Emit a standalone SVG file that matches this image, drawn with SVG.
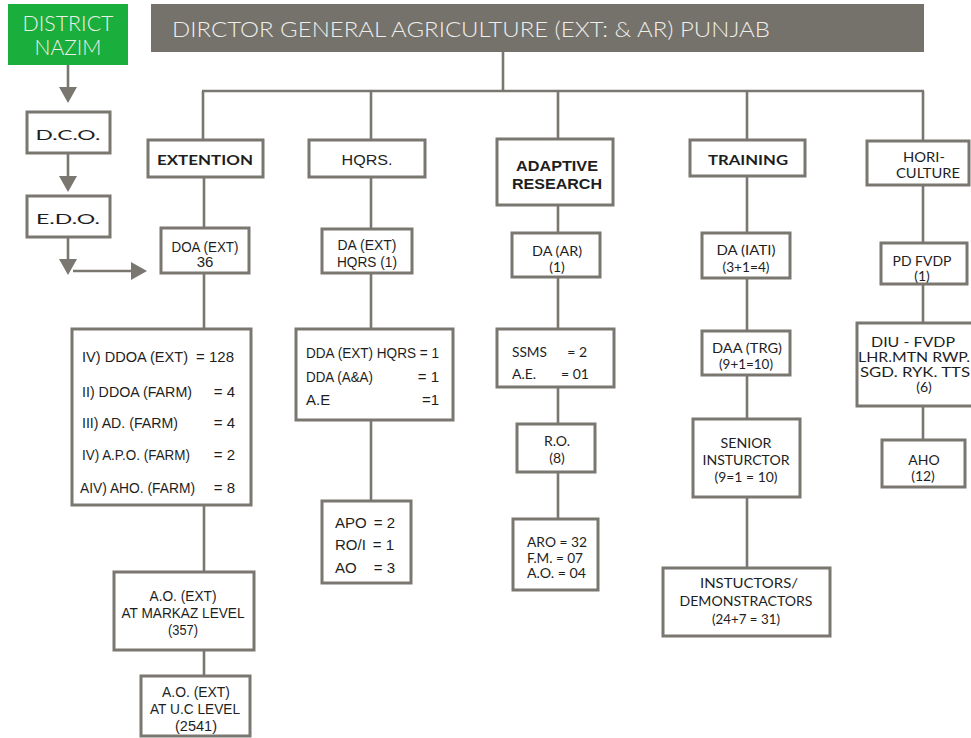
<svg xmlns="http://www.w3.org/2000/svg" width="971" height="738" viewBox="0 0 971 738">
<style>
.box{fill:#fff;stroke:#7a7771;stroke-width:3}
.ln{fill:none;stroke:#7a7771;stroke-width:2.6}
.n{font-family:"Liberation Sans Narrow","Liberation Sans",Arial,sans-serif;font-size:15px;fill:#1e1e1e}
.h{font-family:Lato,"Open Sans",sans-serif;font-size:14px;fill:#1e1e1e}
.c{text-anchor:middle}
.b{font-weight:bold}
.lt{font-family:Lato,"Open Sans",sans-serif;font-weight:300;fill:#eeeeea}
</style>
<defs>
<marker id="ah" markerUnits="userSpaceOnUse" markerWidth="18" markerHeight="20" refX="12" refY="9" orient="auto">
<path d="M0,0 L16,9 L0,18 z" fill="#7a7771"/>
</marker>
</defs>
<rect width="971" height="738" fill="#fff"/>

<g id="connectors">
<line class="ln" x1="503" y1="51" x2="503" y2="91"/>
<line class="ln" x1="202" y1="91" x2="924" y2="91"/>
<line class="ln" x1="203" y1="91" x2="203" y2="140"/>
<line class="ln" x1="371" y1="91" x2="371" y2="140"/>
<line class="ln" x1="558" y1="91" x2="558" y2="139"/>
<line class="ln" x1="747" y1="91" x2="747" y2="140"/>
<line class="ln" x1="923" y1="91" x2="923" y2="141"/>
<line class="ln" x1="204" y1="177" x2="204" y2="228"/>
<line class="ln" x1="204" y1="273" x2="204" y2="329"/>
<line class="ln" x1="204" y1="505" x2="204" y2="572"/>
<line class="ln" x1="204" y1="650" x2="204" y2="676"/>
<line class="ln" x1="371" y1="177" x2="371" y2="229"/>
<line class="ln" x1="371" y1="273" x2="371" y2="329"/>
<line class="ln" x1="371" y1="420" x2="371" y2="501"/>
<line class="ln" x1="558" y1="205" x2="558" y2="233"/>
<line class="ln" x1="558" y1="277" x2="558" y2="329"/>
<line class="ln" x1="558" y1="387" x2="558" y2="424"/>
<line class="ln" x1="558" y1="472" x2="558" y2="519"/>
<line class="ln" x1="747" y1="176" x2="747" y2="233"/>
<line class="ln" x1="747" y1="278" x2="747" y2="331"/>
<line class="ln" x1="747" y1="375" x2="747" y2="419"/>
<line class="ln" x1="747" y1="497" x2="747" y2="568"/>
<line class="ln" x1="923" y1="185" x2="923" y2="243"/>
<line class="ln" x1="923" y1="284" x2="923" y2="323"/>
<line class="ln" x1="923" y1="406" x2="923" y2="440"/>
<line class="ln" x1="68" y1="65" x2="68" y2="99" marker-end="url(#ah)"/>
<line class="ln" x1="68" y1="153" x2="68" y2="188" marker-end="url(#ah)"/>
<line class="ln" x1="68" y1="237" x2="68" y2="271" marker-end="url(#ah)"/>
<line class="ln" x1="73" y1="271" x2="143" y2="271" marker-end="url(#ah)"/>
</g>

<g id="title">
<rect x="151" y="4" width="773" height="48" fill="#75726c"/>
<text class="lt" x="172" y="37" font-size="22" textLength="598" lengthAdjust="spacingAndGlyphs">DIRCTOR GENERAL AGRICULTURE (EXT: &amp; AR) PUNJAB</text>
</g>

<g id="nazim">
<rect x="8" y="4" width="120" height="61" fill="#1aae3c"/>
<text class="lt" x="68" y="31" font-size="21" text-anchor="middle" textLength="91" lengthAdjust="spacingAndGlyphs">DISTRICT</text>
<text class="lt" x="68" y="55" font-size="21" text-anchor="middle" textLength="67" lengthAdjust="spacingAndGlyphs">NAZIM</text>
</g>

<g id="dco">
<rect class="box" x="27" y="112" width="83" height="41"/>
<text class="h c" x="68" y="140" font-size="20" textLength="65" lengthAdjust="spacingAndGlyphs">D.C.O.</text>
</g>
<g id="edo">
<rect class="box" x="27" y="196" width="83" height="41"/>
<text class="h c" x="68" y="224" font-size="20" textLength="64" lengthAdjust="spacingAndGlyphs">E.D.O.</text>
</g>

<g id="extention">
<rect class="box" x="148" y="140" width="115" height="37"/>
<text class="h c b" x="205" y="165" font-size="17" textLength="96" lengthAdjust="spacingAndGlyphs">EXTENTION</text>
</g>
<g id="hqrs">
<rect class="box" x="309" y="140" width="116" height="37"/>
<text class="n c" x="367" y="165" font-size="17" textLength="51" lengthAdjust="spacingAndGlyphs">HQRS.</text>
</g>
<g id="adaptive">
<rect class="box" x="497" y="139" width="116" height="66"/>
<text class="n c b" x="557" y="171" font-size="16" textLength="82" lengthAdjust="spacingAndGlyphs">ADAPTIVE</text>
<text class="n c b" x="557" y="189" font-size="16" textLength="90" lengthAdjust="spacingAndGlyphs">RESEARCH</text>
</g>
<g id="training">
<rect class="box" x="690" y="140" width="115" height="36"/>
<text class="h c b" x="748" y="165" font-size="17" textLength="80" lengthAdjust="spacingAndGlyphs">TRAINING</text>
</g>
<g id="horiculture">
<rect class="box" x="867" y="141" width="102" height="44"/>
<text class="h c" x="924" y="162" textLength="42" lengthAdjust="spacingAndGlyphs">HORI-</text>
<text class="h c" x="928" y="178" textLength="64" lengthAdjust="spacingAndGlyphs">CULTURE</text>
</g>

<g id="doa">
<rect class="box" x="161" y="228" width="88" height="45"/>
<text class="n c" x="205" y="252" textLength="67" lengthAdjust="spacingAndGlyphs">DOA (EXT)</text>
<text class="n c" x="205" y="267">36</text>
</g>
<g id="ddoa">
<rect class="box" x="72" y="329" width="179" height="176"/>
<text class="n" x="82" y="362" font-size="17" textLength="106" lengthAdjust="spacingAndGlyphs">IV) DDOA (EXT)</text>
<text class="n" x="234" y="362" font-size="17" text-anchor="end">= 128</text>
<text class="n" x="82" y="397" font-size="17" textLength="110" lengthAdjust="spacingAndGlyphs">II) DDOA (FARM)</text>
<text class="n" x="235" y="397" font-size="17" text-anchor="end">= 4</text>
<text class="n" x="82" y="428" font-size="17" textLength="96" lengthAdjust="spacingAndGlyphs">III) AD. (FARM)</text>
<text class="n" x="235" y="428" font-size="17" text-anchor="end">= 4</text>
<text class="n" x="82" y="460" font-size="17" textLength="108" lengthAdjust="spacingAndGlyphs">IV) A.P.O. (FARM)</text>
<text class="n" x="235" y="460" font-size="17" text-anchor="end">= 2</text>
<text class="n" x="80" y="493" font-size="17" textLength="115" lengthAdjust="spacingAndGlyphs">AIV) AHO. (FARM)</text>
<text class="n" x="235" y="493" font-size="17" text-anchor="end">= 8</text>
</g>
<g id="ao-markaz">
<rect class="box" x="114" y="572" width="140" height="78"/>
<text class="n c" x="183" y="601" textLength="67" lengthAdjust="spacingAndGlyphs">A.O. (EXT)</text>
<text class="n c" x="183" y="618" textLength="123" lengthAdjust="spacingAndGlyphs">AT MARKAZ LEVEL</text>
<text class="n c" x="183" y="635" textLength="30" lengthAdjust="spacingAndGlyphs">(357)</text>
</g>
<g id="ao-uc">
<rect class="box" x="141" y="676" width="109" height="60"/>
<text class="n c" x="196" y="697" textLength="68" lengthAdjust="spacingAndGlyphs">A.O. (EXT)</text>
<text class="n c" x="195" y="714" textLength="90" lengthAdjust="spacingAndGlyphs">AT U.C LEVEL</text>
<text class="n c" x="196" y="731" textLength="42" lengthAdjust="spacingAndGlyphs">(2541)</text>
</g>

<g id="da-ext">
<rect class="box" x="322" y="229" width="90" height="44"/>
<text class="n c" x="367" y="250" textLength="59" lengthAdjust="spacingAndGlyphs">DA (EXT)</text>
<text class="n c" x="367" y="267" textLength="60" lengthAdjust="spacingAndGlyphs">HQRS (1)</text>
</g>
<g id="dda">
<rect class="box" x="296" y="329" width="157" height="91"/>
<text class="n" x="306" y="358" textLength="133" lengthAdjust="spacingAndGlyphs">DDA (EXT) HQRS = 1</text>
<text class="n" x="306" y="382" textLength="67" lengthAdjust="spacingAndGlyphs">DDA (A&amp;A)</text>
<text class="n" x="439" y="382" text-anchor="end">= 1</text>
<text class="n" x="306" y="405">A.E</text>
<text class="n" x="439" y="405" text-anchor="end">=1</text>
</g>
<g id="apo">
<rect class="box" x="322" y="501" width="89" height="82"/>
<text class="n" x="335" y="528" font-size="16">APO</text>
<text class="n" x="395" y="528" font-size="16" text-anchor="end">=  2</text>
<text class="n" x="335" y="550" font-size="16">RO/I</text>
<text class="n" x="394" y="550" font-size="16" text-anchor="end">= 1</text>
<text class="n" x="335" y="573" font-size="16">AO</text>
<text class="n" x="395" y="573" font-size="16" text-anchor="end">=  3</text>
</g>

<g id="da-ar">
<rect class="box" x="512" y="233" width="88" height="44"/>
<text class="h c" x="557" y="256" textLength="50" lengthAdjust="spacingAndGlyphs">DA (AR)</text>
<text class="h c" x="557" y="272">(1)</text>
</g>
<g id="ssms">
<rect class="box" x="497" y="329" width="117" height="58"/>
<text class="h" x="512" y="357" textLength="35" lengthAdjust="spacingAndGlyphs">SSMS</text>
<text class="h" x="587" y="357" text-anchor="end">= 2</text>
<text class="h" x="512" y="379">A.E.</text>
<text class="h" x="589" y="379" text-anchor="end">= 01</text>
</g>
<g id="ro">
<rect class="box" x="517" y="424" width="78" height="48"/>
<text class="h c" x="557" y="446">R.O.</text>
<text class="h c" x="557" y="463">(8)</text>
</g>
<g id="aro">
<rect class="box" x="513" y="519" width="85" height="71"/>
<text class="h" x="527" y="547" font-size="13.5" textLength="60" lengthAdjust="spacingAndGlyphs">ARO = 32</text>
<text class="h" x="527" y="563" font-size="13.5" textLength="56" lengthAdjust="spacingAndGlyphs">F.M. = 07</text>
<text class="h" x="527" y="578" font-size="13.5" textLength="59" lengthAdjust="spacingAndGlyphs">A.O. = 04</text>
</g>

<g id="da-iati">
<rect class="box" x="702" y="233" width="88" height="45"/>
<text class="h c" x="746" y="255" textLength="59" lengthAdjust="spacingAndGlyphs">DA (IATI)</text>
<text class="h c" x="746" y="272" textLength="47" lengthAdjust="spacingAndGlyphs">(3+1=4)</text>
</g>
<g id="daa-trg">
<rect class="box" x="702" y="331" width="88" height="44"/>
<text class="h c" x="747" y="353" textLength="70" lengthAdjust="spacingAndGlyphs">DAA (TRG)</text>
<text class="h c" x="746" y="369" textLength="54" lengthAdjust="spacingAndGlyphs">(9+1=10)</text>
</g>
<g id="senior">
<rect class="box" x="693" y="419" width="107" height="78"/>
<text class="h c" x="746" y="448" textLength="51" lengthAdjust="spacingAndGlyphs">SENIOR</text>
<text class="h c" x="746" y="465" textLength="87" lengthAdjust="spacingAndGlyphs">INSTURCTOR</text>
<text class="h c" x="746" y="482" textLength="63" lengthAdjust="spacingAndGlyphs">(9=1 = 10)</text>
</g>
<g id="instructors">
<rect class="box" x="663" y="568" width="167" height="68"/>
<text class="h c" x="749" y="588" textLength="98" lengthAdjust="spacingAndGlyphs">INSTUCTORS/</text>
<text class="h c" x="746" y="606" textLength="133" lengthAdjust="spacingAndGlyphs">DEMONSTRACTORS</text>
<text class="h c" x="746" y="624" textLength="68" lengthAdjust="spacingAndGlyphs">(24+7 = 31)</text>
</g>

<g id="pd-fvdp">
<rect class="box" x="881" y="243" width="86" height="41"/>
<text class="h c" x="922" y="266" textLength="59" lengthAdjust="spacingAndGlyphs">PD FVDP</text>
<text class="h c" x="922" y="281">(1)</text>
</g>
<g id="diu">
<rect class="box" x="857" y="323" width="116" height="83"/>
<text class="h c" x="913" y="347" textLength="84" lengthAdjust="spacingAndGlyphs">DIU - FVDP</text>
<text class="h c" x="914" y="362" textLength="112" lengthAdjust="spacingAndGlyphs">LHR.MTN RWP.</text>
<text class="h c" x="915" y="377" textLength="110" lengthAdjust="spacingAndGlyphs">SGD. RYK. TTS</text>
<text class="h c" x="924" y="392">(6)</text>
</g>
<g id="aho">
<rect class="box" x="882" y="440" width="83" height="47"/>
<text class="h c" x="924" y="465">AHO</text>
<text class="h c" x="923" y="481">(12)</text>
</g>
</svg>
